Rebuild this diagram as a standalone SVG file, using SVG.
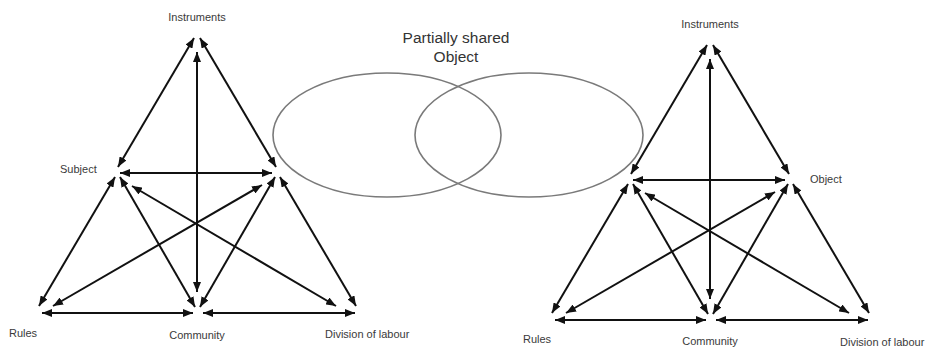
<svg xmlns="http://www.w3.org/2000/svg" width="926" height="348" viewBox="0 0 926 348">
  <style>
    .lbl { font-family: "Liberation Sans", Arial, Helvetica, sans-serif; font-size: 11px; fill: #3a3a3a; }
    .title { font-family: "Liberation Sans", Arial, Helvetica, sans-serif; font-size: 15.5px; fill: #333; }
    .arr { stroke: #111; stroke-width: 2; fill: none; marker-start: url(#head); marker-end: url(#head); }
    .obj { fill: none; stroke: #7a7a7a; stroke-width: 1.6; }
  </style>
  <defs>
    <marker id="head" viewBox="0 0 10 8" refX="10" refY="4" markerWidth="10" markerHeight="8" markerUnits="userSpaceOnUse" orient="auto-start-reverse">
      <path d="M0,0 L10,4 L0,8 z" fill="#111"/>
    </marker>
  </defs>
  <rect width="926" height="348" fill="#fff"/>

  <!-- shared object: two overlapping ellipses -->
  <g id="shared-object">
    <ellipse class="obj" cx="387" cy="135" rx="114" ry="62"/>
    <ellipse class="obj" cx="529" cy="135" rx="114" ry="62"/>
    <text class="title" x="456" y="43" text-anchor="middle">Partially shared</text>
    <text class="title" x="456" y="62" text-anchor="middle">Object</text>
  </g>

  <!-- activity system 1 -->
  <g id="a1-instruments"><text class="lbl" x="197" y="21" text-anchor="middle">Instruments</text></g>
  <g id="a1-subject"><text class="lbl" x="60" y="173">Subject</text></g>
  <g id="a1-rules"><text class="lbl" x="9" y="337">Rules</text></g>
  <g id="a1-community"><text class="lbl" x="197" y="339" text-anchor="middle">Community</text></g>
  <g id="a1-division"><text class="lbl" x="325" y="338">Division of labour</text></g>

  <!-- activity system 2 -->
  <g id="a2-instruments"><text class="lbl" x="710" y="28" text-anchor="middle">Instruments</text></g>
  <g id="a2-object"><text class="lbl" x="810" y="183">Object</text></g>
  <g id="a2-rules"><text class="lbl" x="523" y="343">Rules</text></g>
  <g id="a2-community"><text class="lbl" x="710" y="345" text-anchor="middle">Community</text></g>
  <g id="a2-division"><text class="lbl" x="840" y="346">Division of labour</text></g>

  <!-- connectors: double-headed arrows of each triangle -->
  <g id="connectors">
    <g id="triangle-1">
      <line class="arr" x1="194" y1="38" x2="118" y2="167"/>
      <line class="arr" x1="200" y1="38" x2="276" y2="167"/>
      <line class="arr" x1="197" y1="52" x2="197" y2="292"/>
      <line class="arr" x1="120" y1="173" x2="272" y2="173"/>
      <line class="arr" x1="115" y1="177" x2="39" y2="306"/>
      <line class="arr" x1="120" y1="177" x2="195" y2="307"/>
      <line class="arr" x1="132" y1="186" x2="336" y2="306"/>
      <line class="arr" x1="53" y1="306" x2="262" y2="185"/>
      <line class="arr" x1="200" y1="307" x2="275" y2="177"/>
      <line class="arr" x1="280" y1="177" x2="356" y2="306"/>
      <line class="arr" x1="42" y1="313" x2="193" y2="313"/>
      <line class="arr" x1="203" y1="313" x2="355" y2="313"/>
    </g>
    <g id="triangle-2" transform="translate(513,7)">
      <line class="arr" x1="194" y1="38" x2="118" y2="167"/>
      <line class="arr" x1="200" y1="38" x2="276" y2="167"/>
      <line class="arr" x1="197" y1="52" x2="197" y2="292"/>
      <line class="arr" x1="120" y1="173" x2="272" y2="173"/>
      <line class="arr" x1="115" y1="177" x2="39" y2="306"/>
      <line class="arr" x1="120" y1="177" x2="195" y2="307"/>
      <line class="arr" x1="132" y1="186" x2="336" y2="306"/>
      <line class="arr" x1="53" y1="306" x2="262" y2="185"/>
      <line class="arr" x1="200" y1="307" x2="275" y2="177"/>
      <line class="arr" x1="280" y1="177" x2="356" y2="306"/>
      <line class="arr" x1="42" y1="313" x2="193" y2="313"/>
      <line class="arr" x1="203" y1="313" x2="355" y2="313"/>
    </g>
  </g>
</svg>
